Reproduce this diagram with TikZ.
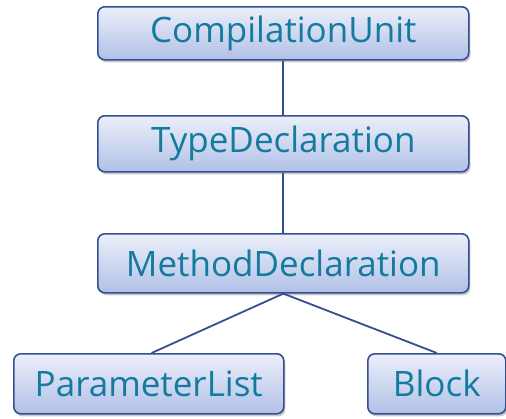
\documentclass[tikz,border=0pt]{standalone}
\usepackage{fontspec}
\setmainfont{Open Sans}
\usetikzlibrary{shadows}
\definecolor{txt}{RGB}{20,122,158}
\definecolor{edge}{RGB}{52,80,145}
\definecolor{topc}{RGB}{236,239,250}
\definecolor{botc}{RGB}{176,192,230}
\tikzset{
  box/.style={draw=edge, line width=1.6pt, rounded corners=7pt, top color=topc, bottom color=botc,
    text=txt, font=\fontsize{35}{38}\selectfont, inner sep=0pt, anchor=north west,
    drop shadow={shadow xshift=1.5pt, shadow yshift=-2.5pt, opacity=0.35, fill=black!60}},
  conn/.style={draw=edge, line width=1.8pt}
}
\begin{document}
\begin{tikzpicture}[x=1pt,y=-1pt]
\useasboundingbox (0,0) rectangle (506,418);
\node[box, minimum width=371pt, minimum height=53pt] (cu) at (97,6) {CompilationUnit};
\node[box, minimum width=371pt, minimum height=56pt] (td) at (97,115) {TypeDeclaration};
\node[box, minimum width=371pt, minimum height=59pt] (md) at (97,233) {MethodDeclaration};
\node[box, minimum width=270pt, minimum height=60pt] (pl) at (13,353) {ParameterList};
\node[box, minimum width=138pt, minimum height=60pt] (bl) at (367,353) {Block};
\draw[conn] (cu.south) -- (td.north);
\draw[conn] (td.south) -- (md.north);
\draw[conn] (md.south) -- ([xshift=-133pt]pl.north east);
\draw[conn] (md.south) -- (bl.north);
\end{tikzpicture}
\end{document}
